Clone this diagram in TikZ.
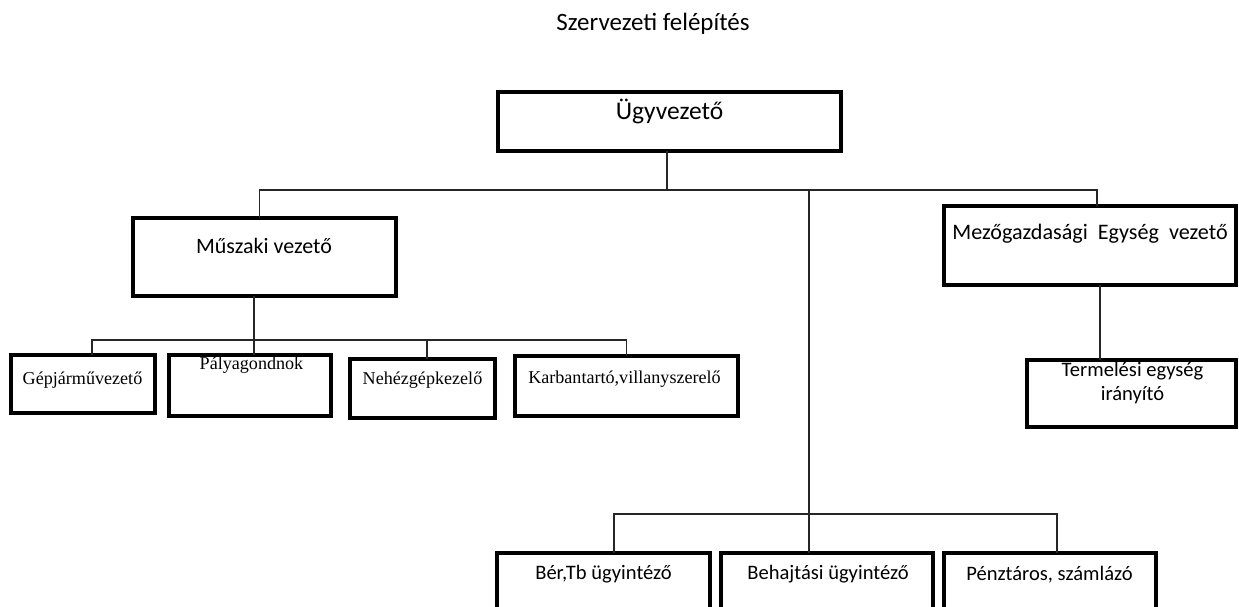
\documentclass[tikz,border=0pt]{standalone}
\usepackage{fontspec}
\setmainfont{Carlito}
\newfontfamily\timesfont{Liberation Serif}

\tikzset{
  box/.style={draw, line width=2.2pt, inner sep=0pt, outer sep=0pt},
  conn/.style={draw=black!85, line width=0.85pt},
  txt/.style={anchor=base, inner sep=0pt, font=\fontsize{11.7}{13.5}\selectfont},
  serif/.style={anchor=base, inner sep=0pt, font=\timesfont\fontsize{10.3}{12}\selectfont}
}

\begin{document}
\begin{tikzpicture}[x=0.02cm, y=-0.02cm]
            \clip (0,0) rectangle (1239,607);

            \node[txt, font=\fontsize{14.2}{16}\selectfont] (title) at (653,31) {Szervezeti felépítés};

            \node[box, minimum width=6.86cm, minimum height=1.18cm] (ugy) at (669.5,121.5) {};
            \node[box, minimum width=5.26cm, minimum height=1.56cm] (mus) at (264.5,257) {};
            \node[box, minimum width=5.84cm, minimum height=1.58cm] (mezo) at (1090,245.5) {};
            \node[box, minimum width=4.18cm, minimum height=1.34cm] (term) at (1131.5,393.5) {};

            \node[box, minimum width=2.88cm, minimum height=1.16cm] (gep) at (83,384) {};
            \node[box, minimum width=3.24cm, minimum height=1.22cm] (paly) at (250,385.5) {};
            \node[box, minimum width=2.90cm, minimum height=1.18cm] (neh) at (422.5,388.5) {};
            \node[box, minimum width=4.46cm, minimum height=1.20cm] (karb) at (626.5,386) {};

            \node[box, minimum width=4.26cm, minimum height=1.6cm] (ber) at (603.5,593) {};
            \node[box, minimum width=4.24cm, minimum height=1.6cm] (beh) at (827,593) {};
            \node[box, minimum width=4.24cm, minimum height=1.6cm] (penz) at (1050,593) {};

            \node[txt, font=\fontsize{14.5}{16}\selectfont] (ugyT) at (669.5,120) {Ügyvezető};
            \node[txt, font=\fontsize{12.5}{14}\selectfont] (musT) at (264,254) {Műszaki vezető};
            \node[txt, font=\fontsize{12.6}{14}\selectfont] (mezoT) at (1090,240) {Mezőgazdasági\ \ Egység\ \ vezető};
            \node[txt] (termT) at (1132.5,377) {Termelési egység};
            \node[txt] (termT2) at (1132.5,400) {irányító};

            \node[serif] (gepT) at (82.5,384) {Gépjárművezető};
            \node[serif] (palyT) at (251.5,370) {Pályagondnok};
            \node[serif] (nehT) at (422.5,384) {Nehézgépkezelő};
            \node[serif] (karbT) at (624.5,383) {Karbantartó,villanyszerelő};

            \node[txt] (berT) at (603.5,579) {Bér,Tb ügyintéző};
            \node[txt] (behT) at (828,579) {Behajtási ügyintéző};
            \node[txt] (penzT) at (1049.5,580) {Pénztáros, számlázó};

            \coordinate (hub) at (667,190);
            \coordinate (trunk) at (809,190);
            \coordinate (hub2) at (254,340);
            \coordinate (hub3) at (809,514);

            \draw[conn] (ugy.south -| hub) -- (hub);
            \draw[conn] ([xshift=-0.1cm]mus.north) |- (hub) -| ([xshift=0.14cm]mezo.north);
            \draw[conn] (trunk) -- (trunk |- beh.north);

            \draw[conn] (hub2 |- mus.south) -- (hub2);
            \draw[conn] ([xshift=0.18cm]gep.north) |- (hub2) -| (karb.north);
            \draw[conn] ([xshift=0.08cm]paly.north) -- ([xshift=0.08cm]paly.north |- hub2);
            \draw[conn] ([xshift=0.09cm]neh.north) -- ([xshift=0.09cm]neh.north |- hub2);

            \draw[conn] ([xshift=0.2cm]mezo.south) -- ([xshift=0.2cm]mezo.south |- term.north);

            \draw[conn] ([xshift=0.21cm]ber.north) |- (hub3) -| ([xshift=0.14cm]penz.north);

        \end{tikzpicture}
\end{document}
